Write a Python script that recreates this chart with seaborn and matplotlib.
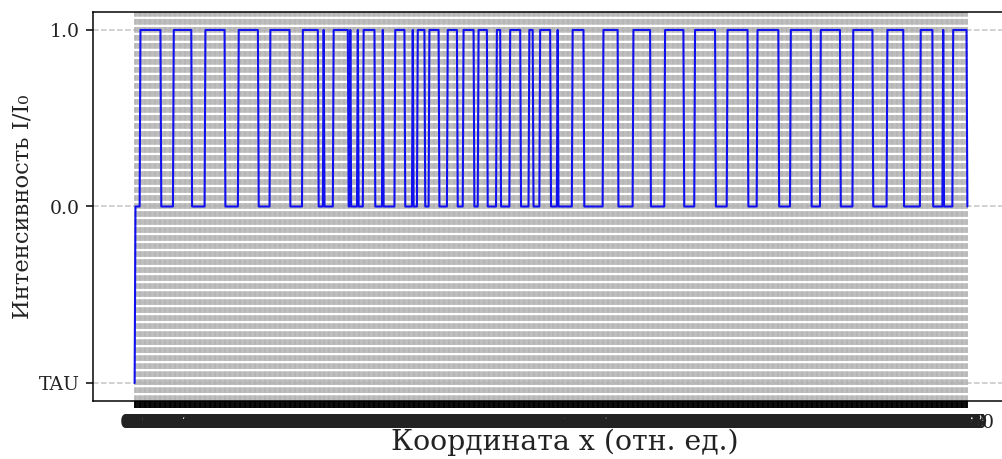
import numpy as np
import pandas as pd
import matplotlib
matplotlib.use("Agg")
import matplotlib.pyplot as plt
import seaborn as sns

# ---- data ----
# x categories: 0.0 ... 100.0 in steps of 0.1 (string labels on a categorical axis)
x_values = [f"{i / 10:.1f}" for i in range(1001)]
first_label = "TAU"
low_label = "0.0"
high_label = "1.0"
# intervals (start, end, inclusive) where the intensity is 1.0
high_intervals = [
    (0.7, 3.1), (4.7, 6.8), (8.5, 10.8), (12.5, 14.8), (16.3, 18.6),
    (20.2, 22.0), (22.7, 22.7), (23.9, 25.6), (25.9, 25.9), (26.8, 26.8),
    (27.5, 28.8), (29.8, 29.8), (31.3, 32.4), (33.4, 33.4), (34.0, 34.8),
    (35.4, 36.5), (37.6, 38.7), (39.5, 40.7), (41.3, 42.3), (43.5, 43.9),
    (45.1, 46.3), (47.4, 47.8), (48.7, 49.9), (50.8, 50.8), (52.6, 53.9),
    (56.3, 58.0), (59.9, 61.9), (63.7, 65.9), (67.3, 69.7), (71.2, 73.6),
    (74.8, 77.3), (78.8, 81.2), (82.4, 84.7), (86.3, 88.6), (90.4, 92.3),
    (94.4, 95.8), (97.1, 97.1), (98.3, 99.9),
]

y_values = [low_label] * len(x_values)
y_values[0] = first_label
for a, b in high_intervals:
    for i in range(int(round(a * 10)), int(round(b * 10)) + 1):
        y_values[i] = high_label

df = pd.DataFrame({"x": x_values, "y": y_values})

# ---- figure ----
sns.set_style("white")
plt.rcParams["font.family"] = ["DejaVu Serif"]

DPI = 136
fig = plt.figure(figsize=(1002 / DPI, 459 / DPI), dpi=DPI)
ax = fig.add_axes([93 / 1002, 1 - 400.7 / 459, (1009 - 93) / 1002, (400.7 - 12.3) / 459])

sns.lineplot(data=df, x="x", y="y", ax=ax, sort=False, estimator=None,
             color="#1010f0", linewidth=1.1)

# categorical y: keep first category (TAU) at the bottom
if ax.yaxis_inverted():
    ax.invert_yaxis()

ax.grid(True, linestyle="--", color="#b0b0b0", linewidth=0.8, alpha=0.75)
ax.set_axisbelow(True)
for s in ax.spines.values():
    s.set_color("black")
    s.set_linewidth(0.8)
ax.tick_params(axis="both", length=3.5, width=0.8, color="black",
               labelsize=10, labelcolor="#222222", left=True, bottom=True)

ax.set_xlabel("Координата x (отн. ед.)", fontsize=15, color="#222222", labelpad=0)
ax.xaxis.set_label_coords((565 - 93) / (1009 - 93), -0.071)
ax.set_ylabel("Интенсивность I/I₀", fontsize=12, color="#222222", labelpad=3)

fig.savefig("out.png", dpi=DPI)
